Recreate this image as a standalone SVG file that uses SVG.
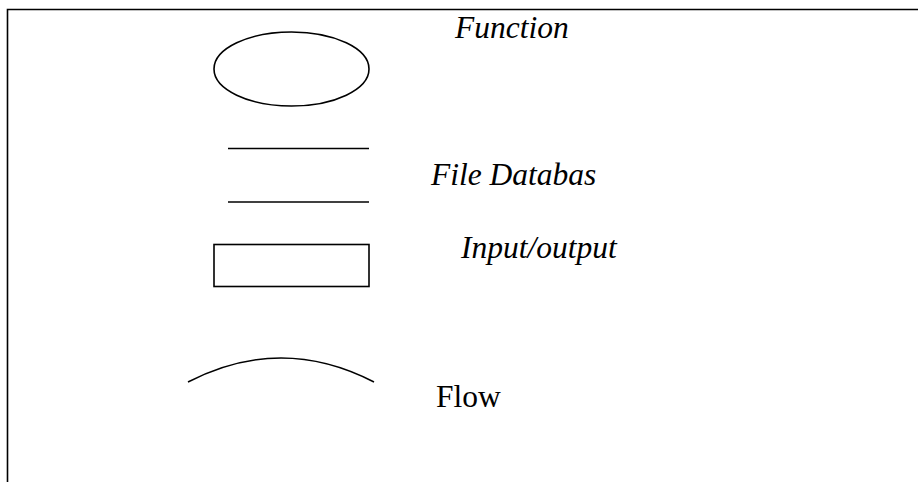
<svg xmlns="http://www.w3.org/2000/svg" width="918" height="482" viewBox="0 0 918 482">
<style>
.s{fill:none;stroke:#000;stroke-width:1.6}
.t{font-family:"Liberation Serif","Times New Roman",serif;font-size:31.5px;fill:#000}
.i{font-style:italic}
</style>
<rect width="918" height="482" fill="#fff"/>
<g id="frame">
<path class="s" d="M7.5,482 V9.5 H918"/>
</g>
<g id="function">
<ellipse class="s" cx="291.5" cy="69" rx="77.5" ry="37"/>
<text class="t i" x="455" y="38">Function</text>
</g>
<g id="file-database">
<line class="s" x1="228" y1="148.5" x2="369" y2="148.5"/>
<line class="s" x1="228" y1="202" x2="369" y2="202"/>
<text class="t i" x="431" y="185">File Databas</text>
</g>
<g id="input-output">
<rect class="s" x="214" y="244.5" width="155" height="42"/>
<text class="t i" x="461" y="258">Input/output</text>
</g>
<g id="flow">
<path class="s" d="M188,382 Q281,334 374,382"/>
<text class="t" x="436" y="407">Flow</text>
</g>
<g id="connectors"/>
</svg>
